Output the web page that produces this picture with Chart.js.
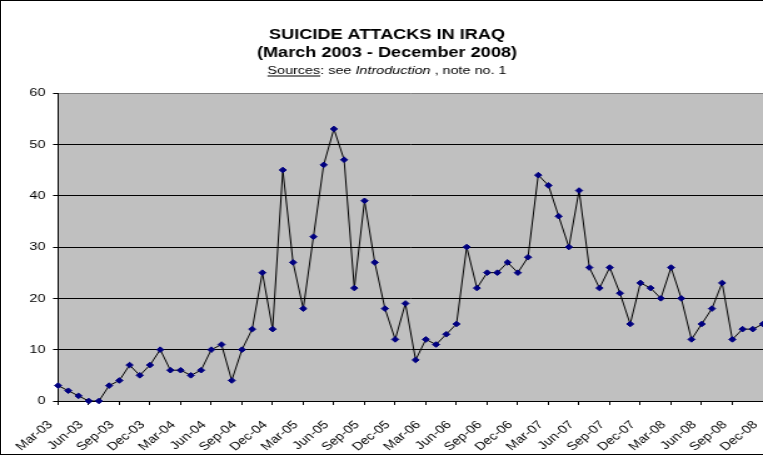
<!DOCTYPE html>
<html>
<head>
<meta charset="utf-8">
<script src="https://cdn.jsdelivr.net/npm/chart.js@4/dist/chart.umd.min.js"></script>
<style>
  html, body { margin: 0; padding: 0; background: #fff; }
  #wrap { position: relative; width: 763px; height: 456px; overflow: hidden; }
  #stretch { position: absolute; left: 0; top: 0; width: 610px; height: 456px;
             transform: scaleX(1.2508); transform-origin: 0 0; }
  #frame { position: absolute; left: 0; top: 0; width: 780px; height: 455px;
           border: 1px solid #000; box-sizing: border-box; pointer-events: none; }
</style>
</head>
<body>
<div id="wrap">
  <div id="stretch"><canvas id="chart-suicide-attacks" width="610" height="456"></canvas></div>
  <div id="frame"></div>
</div>
<script>
const months = [
  'Mar-03','Apr-03','May-03','Jun-03','Jul-03','Aug-03','Sep-03','Oct-03','Nov-03','Dec-03',
  'Jan-04','Feb-04','Mar-04','Apr-04','May-04','Jun-04','Jul-04','Aug-04','Sep-04','Oct-04','Nov-04','Dec-04',
  'Jan-05','Feb-05','Mar-05','Apr-05','May-05','Jun-05','Jul-05','Aug-05','Sep-05','Oct-05','Nov-05','Dec-05',
  'Jan-06','Feb-06','Mar-06','Apr-06','May-06','Jun-06','Jul-06','Aug-06','Sep-06','Oct-06','Nov-06','Dec-06',
  'Jan-07','Feb-07','Mar-07','Apr-07','May-07','Jun-07','Jul-07','Aug-07','Sep-07','Oct-07','Nov-07','Dec-07',
  'Jan-08','Feb-08','Mar-08','Apr-08','May-08','Jun-08','Jul-08','Aug-08','Sep-08','Oct-08','Nov-08','Dec-08'
];

const attacks = [
  3, 2, 1, 0, 0, 3, 4, 7, 5, 7,
  10, 6, 6, 5, 6, 10, 11, 4, 10, 14, 25, 14,
  45, 27, 18, 32, 46, 53, 47, 22, 39, 27, 18, 12,
  19, 8, 12, 11, 13, 15, 30, 22, 25, 25, 27, 25,
  28, 44, 42, 36, 30, 41, 26, 22, 26, 21, 15, 23,
  22, 20, 26, 20, 12, 15, 18, 23, 12, 14, 14, 15
];

const yMin = 0;
const yMax = 60;
const yStep = 10;
const labelEvery = 3; // only every third month gets a label

const titleLines = ['SUICIDE ATTACKS IN IRAQ', '(March 2003 - December 2008)'];
const sourceParts = [
  { text: 'Sources', italic: false, underline: true },
  { text: ': see ', italic: false },
  { text: 'Introduction', italic: true },
  { text: ' , note no. 1', italic: false }
];

const FONT = 'Arial, "Liberation Sans", sans-serif';

// grey plot background
const plotBackground = {
  id: 'plotBackground',
  beforeDraw(chart) {
    const { ctx, chartArea } = chart;
    ctx.save();
    ctx.fillStyle = '#c0c0c0';
    ctx.fillRect(chartArea.left, chartArea.top, chartArea.right - chartArea.left, chartArea.bottom - chartArea.top);
    ctx.restore();
  }
};

// title block (mixed styles, so drawn by hand)
const titleBlock = {
  id: 'titleBlock',
  afterDraw(chart) {
    const ctx = chart.ctx;
    const cx = 309.4;
    ctx.save();
    ctx.fillStyle = '#000';
    ctx.textBaseline = 'alphabetic';
    ctx.textAlign = 'center';
    ctx.font = 'bold 14.5px ' + FONT;
    ctx.fillText(titleLines[0], cx, 38.5);
    ctx.fillText(titleLines[1], cx, 56.8);

    ctx.textAlign = 'left';
    const fontFor = p => (p.italic ? 'italic ' : '') + '11.5px ' + FONT;
    let total = 0;
    sourceParts.forEach(p => {
      ctx.font = fontFor(p);
      p.w = ctx.measureText(p.text).width;
      total += p.w;
    });
    let x = cx - total / 2;
    const base = 74;
    sourceParts.forEach(p => {
      ctx.font = fontFor(p);
      ctx.fillText(p.text, x, base);
      if (p.underline) {
        ctx.fillRect(x, base + 1.5, p.w, 1);
      }
      x += p.w;
    });
    ctx.restore();
  }
};

const ctx = document.getElementById('chart-suicide-attacks').getContext('2d');
const chartSuicideAttacks = new Chart(ctx, {
  type: 'line',
  data: {
    labels: months,
    datasets: [{
      label: 'Suicide attacks',
      data: attacks,
      borderColor: '#000',
      borderWidth: 1,
      tension: 0,
      pointStyle: 'rectRot',
      pointRadius: 2.8,
      pointBorderWidth: 1,
      pointBackgroundColor: '#000080',
      pointBorderColor: '#000080',
      clip: false
    }]
  },
  options: {
    responsive: false,
    animation: false,
    layout: { autoPadding: false, padding: { top: 93, left: 0, right: 0, bottom: 0 } },
    scales: {
      x: {
        offset: false,
        grid: {
          drawOnChartArea: false,
          drawTicks: true,
          tickLength: 4,
          color: c => (c.index % labelEvery === 0 ? '#000' : 'rgba(0,0,0,0)')
        },
        border: { display: true, color: '#000', width: 1 },
        ticks: {
          autoSkip: false,
          minRotation: 45,
          maxRotation: 45,
          padding: 13,
          labelOffset: -6,
          color: '#000',
          font: { family: FONT, size: 11.5 },
          callback: (value, index) => (index % labelEvery === 0 ? months[index] : '')
        },
        afterFit: scale => {
          scale.height = 55;
          scale.paddingLeft = 0;
          scale.paddingRight = 0;
        }
      },
      y: {
        min: yMin,
        max: yMax,
        grid: {
          color: c => (c.tick && c.tick.value === yMax ? '#808080' : '#000'),
          tickColor: '#000',
          tickLength: 4,
          lineWidth: 1
        },
        border: { display: true, color: '#000', width: 1 },
        ticks: {
          stepSize: yStep,
          padding: 6,
          color: '#000',
          font: { family: FONT, size: 11.5 }
        },
        afterFit: scale => {
          scale.width = 46.4;
        }
      }
    },
    plugins: {
      legend: { display: false },
      title: { display: false },
      tooltip: { enabled: false }
    }
  },
  plugins: [plotBackground, titleBlock]
});
</script>
</body>
</html>
